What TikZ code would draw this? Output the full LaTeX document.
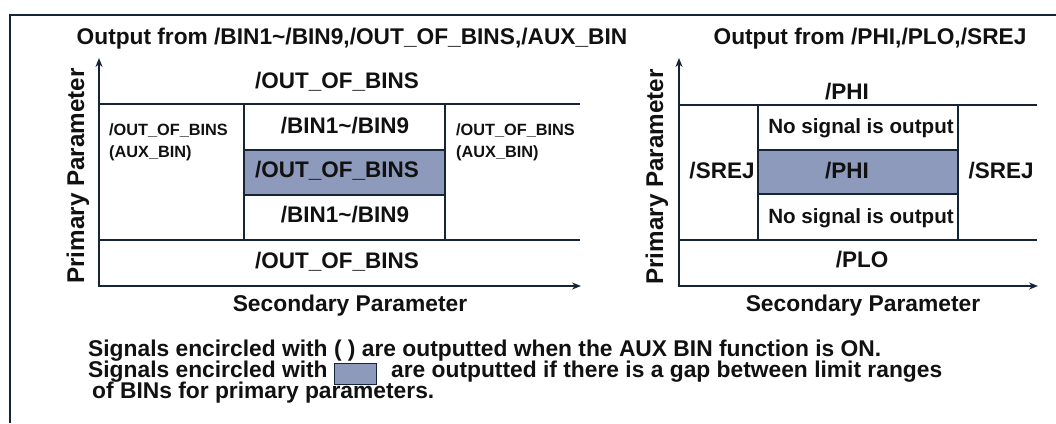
\documentclass[tikz,border=0pt]{standalone}
\usepackage{fontspec}
\setmainfont{Liberation Sans}
\usetikzlibrary{arrows.meta}

\definecolor{linecol}{RGB}{22,36,56}
\definecolor{gapfill}{RGB}{141,154,187}
\definecolor{txtcol}{RGB}{17,17,17}

\tikzset{
  frameline/.style={line width=2pt,draw=linecol},
  axisline/.style={line width=2.2pt,draw=linecol,{Stealth[length=9pt,width=7pt]}-{Stealth[length=9pt,width=7pt]}},
  gridline/.style={line width=2pt,draw=linecol},
  gapbox/.style={line width=2pt,draw=linecol,fill=gapfill},
  titletext/.style={anchor=base,inner sep=0pt,text=txtcol,font=\fontsize{22.7}{26}\selectfont\bfseries},
  celltext/.style={anchor=base,inner sep=0pt,text=txtcol,font=\fontsize{22.5}{26}\selectfont\bfseries},
  auxtext/.style={anchor=base west,inner sep=0pt,text=txtcol,align=left,font=\fontsize{16.3}{22}\selectfont\bfseries},
  nosigtext/.style={anchor=base,inner sep=0pt,text=txtcol,font=\fontsize{20.6}{24}\selectfont\bfseries},
  axistext/.style={anchor=base,inner sep=0pt,text=txtcol,font=\fontsize{22.8}{26}\selectfont\bfseries},
  notetext/.style={anchor=base west,inner sep=0pt,text=txtcol,font=\fontsize{22.8}{24}\selectfont\bfseries}
}

\begin{document}
\begin{tikzpicture}[x=1pt,y=-1pt]
\useasboundingbox (0,0) rectangle (1056,423);

% outer frame (cut off at right and bottom)
\draw[frameline] (10,423) -- (10,15) -- (1056,15);

% left chart: BIN outputs
\node[titletext] (ltitle) at (352,44) {Output from /BIN1\textasciitilde/BIN9,/OUT\_OF\_BINS,/AUX\_BIN};
\draw[axisline] (99,58) -- (99,286) -- (581,286);
\draw[gapbox] (244,150) rectangle (445,195);
\draw[gridline] (99,104) -- (580,104);
\draw[gridline] (99,240) -- (580,240);
\draw[gridline] (244,104) -- (244,240);
\draw[gridline] (445,104) -- (445,240);

\node[celltext] (lhigh) at (337,88) {/OUT\_OF\_BINS};
\node[celltext] (lbinup) at (345,133) {/BIN1\textasciitilde/BIN9};
\node[celltext] (lgap) at (337,177) {/OUT\_OF\_BINS};
\node[celltext] (lbinlo) at (345,222) {/BIN1\textasciitilde/BIN9};
\node[celltext] (llow) at (337,268) {/OUT\_OF\_BINS};
\node[auxtext] (lauxl) at (109,157) {/OUT\_OF\_BINS\\(AUX\_BIN)};
\node[auxtext] (lauxr) at (456,157) {/OUT\_OF\_BINS\\(AUX\_BIN)};

\node[axistext,rotate=90,font=\fontsize{24.2}{26}\selectfont\bfseries] (lprim) at (84,176) {Primary Parameter};
\node[axistext] (lsec) at (350,311) {Secondary Parameter};

% right chart: PHI/PLO/SREJ outputs
\node[titletext] (rtitle) at (870,44) {Output from /PHI,/PLO,/SREJ};
\draw[axisline] (679,58) -- (679,286) -- (1038,286);
\draw[gapbox] (758,150) rectangle (958,194);
\draw[gridline] (679,105) -- (1037,105);
\draw[gridline] (679,240) -- (1037,240);
\draw[gridline] (758,105) -- (758,240);
\draw[gridline] (958,105) -- (958,240);

\node[celltext] (rhigh) at (847,99) {/PHI};
\node[nosigtext] (rnoup) at (861,133) {No signal is output};
\node[celltext] (rgap) at (847,178) {/PHI};
\node[nosigtext] (rnolo) at (861,223) {No signal is output};
\node[celltext] (rlow) at (862,267) {/PLO};
\node[celltext] (rsrejl) at (722,178) {/SREJ};
\node[celltext] (rsrejr) at (1001,178) {/SREJ};

\node[axistext,rotate=90,font=\fontsize{24.2}{26}\selectfont\bfseries] (rprim) at (663,177) {Primary Parameter};
\node[axistext] (rsec) at (863,311) {Secondary Parameter};

% legend note
\node[notetext] (note1) at (88,356) {Signals encircled with ( ) are outputted when the AUX BIN function is ON.};
\node[notetext] (note2) at (88,377) {Signals encircled with \raisebox{-4pt}{\fcolorbox{linecol}{gapfill}{\rule{0pt}{15pt}\hspace{36pt}}}\hspace{8pt} are outputted if there is a gap between limit ranges};
\node[notetext] (note3) at (92,398) {of BINs for primary parameters.};
\end{tikzpicture}
\end{document}
